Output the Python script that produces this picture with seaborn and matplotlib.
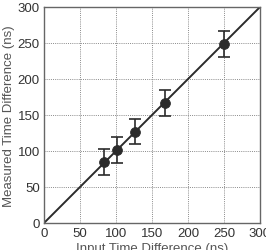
import numpy as np
import pandas as pd
import matplotlib
matplotlib.use("Agg")
import matplotlib.pyplot as plt
import seaborn as sns

# Valores
entrada = [84, 101, 127, 168, 250]
medido = [85, 101, 127, 167, 249]
erro = [18, 18, 17, 18, 18]
linha_x = [0, 300]
linha_y = [0, 300]
ticks = [0, 50, 100, 150, 200, 250, 300]

df = pd.DataFrame({"entrada": entrada, "medido": medido, "erro": erro})

sns.set_style("white")
plt.rcParams["font.family"] = ["Liberation Sans", "DejaVu Sans"]

fig = plt.figure(figsize=(2.66, 2.51), dpi=100)
ax = fig.add_axes([44 / 266, 1 - 224 / 251, 216 / 266, 216 / 251])

# Reta ideal y = x
sns.lineplot(x=linha_x, y=linha_y, ax=ax, color="#2b2b2b", linewidth=1.4, zorder=2)

# Pontos medidos com barras de erro
ax.errorbar(df["entrada"], df["medido"], yerr=df["erro"], fmt="none",
            ecolor="#2b2b2b", elinewidth=1.2, capsize=4, capthick=1.2, zorder=3)
sns.scatterplot(data=df, x="entrada", y="medido", ax=ax, color="#2b2b2b",
                s=50, edgecolor="#2b2b2b", zorder=4)

ax.set_xlim(0, 300)
ax.set_ylim(0, 300)
ax.set_xticks(ticks)
ax.set_yticks(ticks)
ax.grid(True, linestyle=(0, (1, 1.2)), color="#8a8a8a", linewidth=0.7)
ax.tick_params(direction="in", length=3, width=0.8, colors="#555555",
               labelsize=9.5, labelcolor="#333333", pad=3)
for s in ax.spines.values():
    s.set_color("#666666")
    s.set_linewidth(1.0)

ax.set_xlabel("Input Time Difference (ns)", fontsize=9.5, color="#555555", labelpad=2)
ax.set_ylabel("Measured Time Difference (ns)", fontsize=9.5, color="#555555", labelpad=2)

fig.savefig("out.png", dpi=100)
